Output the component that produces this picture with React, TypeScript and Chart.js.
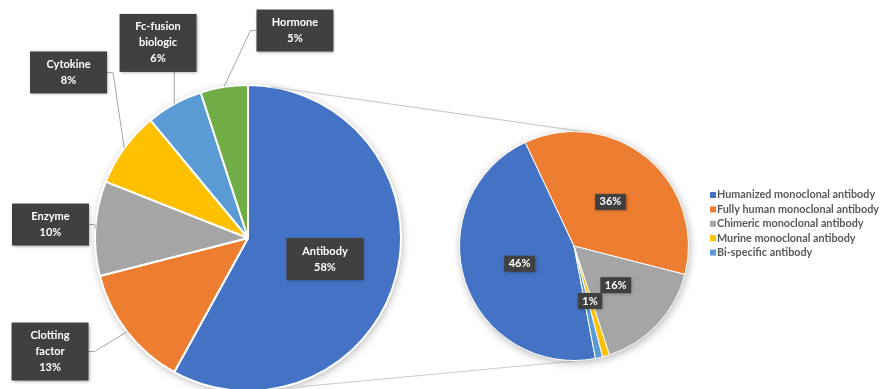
import React, { useEffect, useRef } from "react";
import { Chart, registerables } from "chart.js";

Chart.register(...registerables);

// ---------- data ----------
const primaryCategories = ["Antibody", "Clotting factor", "Enzyme", "Cytokine", "Fc-fusion biologic", "Hormone"];
const primaryValues = [58, 13, 10, 8, 6, 5];
const primaryColors = ["#4472C4", "#ED7D31", "#A5A5A5", "#FFC000", "#5B9BD5", "#70AD47"];

const secondaryCategories = [
  "Humanized monoclonal antibody",
  "Fully human monoclonal antibody",
  "Chimeric monoclonal antibody",
  "Murine monoclonal antibody",
  "Bi-specific antibody",
];
const secondaryValues = [46, 36, 16, 1, 1];
const secondaryColors = ["#4472C4", "#ED7D31", "#A5A5A5", "#FFC000", "#5B9BD5"];

// ---------- layout (not data) ----------
const FONT = "Lato, 'Open Sans', sans-serif";
// label box centre offsets relative to the pie centre, in units of the radius
const primaryLabelOffsets: [number, number][] = [
  [0.503, 0.137],
  [-1.294, 0.742],
  [-1.291, -0.088],
  [-1.173, -1.082],
  [-0.588, -1.275],
  [0.307, -1.356],
];
const secondaryRotation = 169.2;
const secondaryLabelRadius = 0.5;

let primaryChartRef: Chart | null = null;

function wrapText(ctx: CanvasRenderingContext2D, text: string, maxWidth: number): string[] {
  const words = text.split(" ");
  const lines: string[] = [];
  let cur = "";
  for (const w of words) {
    const t = cur ? cur + " " + w : w;
    if (cur && ctx.measureText(t).width > maxWidth) {
      lines.push(cur);
      cur = w;
    } else cur = t;
  }
  if (cur) lines.push(cur);
  return lines;
}

function drawBox(ctx: CanvasRenderingContext2D, x: number, y: number, w: number, h: number, lines: string[], lineH: number, padY: number) {
  ctx.save();
  ctx.shadowColor = "rgba(0,0,0,0.35)";
  ctx.shadowBlur = 3;
  ctx.shadowOffsetX = 1;
  ctx.shadowOffsetY = 1;
  ctx.fillStyle = "#404040";
  ctx.fillRect(x, y, w, h);
  ctx.restore();
  ctx.fillStyle = "#ffffff";
  ctx.textAlign = "center";
  ctx.textBaseline = "middle";
  lines.forEach((l, i) => ctx.fillText(l, x + w / 2, y + padY + lineH * (i + 0.5)));
}

const pieShadowPlugin = {
  id: "pieShadow",
  beforeDatasetsDraw(chart: any) {
    const meta = chart.getDatasetMeta(0);
    const arc = meta.data[0];
    if (!arc) return;
    const p = arc.getProps(["x", "y", "outerRadius"], true);
    const ctx = chart.ctx;
    ctx.save();
    ctx.shadowColor = "rgba(0,0,0,0.3)";
    ctx.shadowBlur = 8;
    ctx.shadowOffsetX = 1;
    ctx.shadowOffsetY = 2;
    ctx.fillStyle = "#ffffff";
    ctx.beginPath();
    ctx.arc(p.x, p.y, p.outerRadius, 0, Math.PI * 2);
    ctx.fill();
    ctx.restore();
  },
};

const primaryLabelPlugin = {
  id: "primaryLabels",
  afterDatasetsDraw(chart: any) {
    const ctx: CanvasRenderingContext2D = chart.ctx;
    const meta = chart.getDatasetMeta(0);
    const data: number[] = chart.data.datasets[0].data;
    const total = data.reduce((a, b) => a + b, 0);
    ctx.save();
    ctx.font = `bold 11px ${FONT}`;
    const lineH = 16;
    const padY = 5;
    meta.data.forEach((arc: any, i: number) => {
      const p = arc.getProps(["x", "y", "startAngle", "endAngle", "outerRadius"], true);
      const R = p.outerRadius;
      const mid = (p.startAngle + p.endAngle) / 2;
      const [ox, oy] = primaryLabelOffsets[i];
      const cx = p.x + ox * R;
      const cy = p.y + oy * R;
      const lines = [...wrapText(ctx, chart.data.labels[i], 62), Math.round((data[i] / total) * 100) + "%"];
      const w = Math.max(77, ...lines.map((l) => ctx.measureText(l).width + 14));
      const h = lines.length * lineH + padY * 2;
      const bx = cx - w / 2;
      const by = cy - h / 2;
      if (Math.hypot(ox, oy) > 1) {
        const ex = p.x + R * Math.cos(mid);
        const ey = p.y + R * Math.sin(mid);
        let ax: number, ay: number, kx: number, ky: number;
        if (ex >= bx && ex <= bx + w) {
          ax = ex;
          ay = ey < by ? by : by + h;
          kx = ax;
          ky = ay;
        } else if (ex < bx) {
          ax = bx;
          ay = cy;
          kx = bx - 6;
          ky = cy;
        } else {
          ax = bx + w;
          ay = cy;
          kx = ax + 6;
          ky = cy;
        }
        ctx.save();
        ctx.strokeStyle = "#a6a6a6";
        ctx.lineWidth = 1;
        ctx.beginPath();
        ctx.moveTo(ex, ey);
        ctx.lineTo(kx, ky);
        ctx.lineTo(ax, ay);
        ctx.stroke();
        ctx.restore();
      }
      drawBox(ctx, bx, by, w, h, lines, lineH, padY);
    });
    ctx.restore();
  },
};

const connectorPlugin = {
  id: "connectors",
  beforeDatasetsDraw(chart: any) {
    if (!primaryChartRef) return;
    const a1 = primaryChartRef.getDatasetMeta(0).data[0] as any;
    const a2 = chart.getDatasetMeta(0).data[0];
    if (!a1 || !a2) return;
    const c1 = a1.getProps(["x", "y", "outerRadius"], true);
    const c2 = a2.getProps(["x", "y", "outerRadius"], true);
    const dx = c2.x - c1.x;
    const dy = c2.y - c1.y;
    const d = Math.hypot(dx, dy);
    const phi = Math.atan2(dy, dx);
    const alpha = Math.acos((c1.outerRadius - c2.outerRadius) / d);
    const ctx: CanvasRenderingContext2D = chart.ctx;
    ctx.save();
    ctx.strokeStyle = "#cfcfcf";
    ctx.lineWidth = 1.2;
    for (const ang of [phi - alpha, phi + alpha]) {
      const nx = Math.cos(ang);
      const ny = Math.sin(ang);
      ctx.beginPath();
      ctx.moveTo(c1.x + c1.outerRadius * nx, c1.y + c1.outerRadius * ny);
      ctx.lineTo(c2.x + c2.outerRadius * nx, c2.y + c2.outerRadius * ny);
      ctx.stroke();
    }
    ctx.restore();
  },
};

const secondaryLabelPlugin = {
  id: "secondaryLabels",
  afterDatasetsDraw(chart: any) {
    const ctx: CanvasRenderingContext2D = chart.ctx;
    const meta = chart.getDatasetMeta(0);
    const data: number[] = chart.data.datasets[0].data;
    const total = data.reduce((a, b) => a + b, 0);
    ctx.save();
    ctx.font = `bold 11px ${FONT}`;
    const placed: { x: number; y: number; w: number; h: number }[] = [];
    meta.data.forEach((arc: any, i: number) => {
      const p = arc.getProps(["x", "y", "startAngle", "endAngle", "outerRadius"], true);
      const mid = (p.startAngle + p.endAngle) / 2;
      const r = p.outerRadius * secondaryLabelRadius;
      const cx = p.x + r * Math.cos(mid);
      const cy = p.y + r * Math.sin(mid);
      const txt = Math.round((data[i] / total) * 100) + "%";
      const w = ctx.measureText(txt).width + 9;
      const h = 16;
      const box = { x: cx - w / 2, y: cy - h / 2, w, h };
      const clash = placed.some((b) => {
        const ox = Math.min(b.x + b.w, box.x + box.w) - Math.max(b.x, box.x);
        const oy = Math.min(b.y + b.h, box.y + box.h) - Math.max(b.y, box.y);
        return ox > 0 && oy > 0 && ox * oy > 0.3 * w * h;
      });
      if (clash) return;
      placed.push(box);
      drawBox(ctx, box.x, box.y, w, h, [txt], 16, 0);
    });
    ctx.restore();
  },
};

const secondaryLegendPlugin = {
  id: "secondaryLegend",
  afterDraw(chart: any) {
    const ctx: CanvasRenderingContext2D = chart.ctx;
    const area = chart.chartArea;
    const labels: string[] = chart.data.labels;
    const colors: string[] = chart.data.datasets[0].backgroundColor;
    const x0 = area.right + 21;
    const rowH = 14.4;
    const y0 = 195;
    ctx.save();
    ctx.font = `bold 10.8px ${FONT}`;
    ctx.textBaseline = "middle";
    ctx.textAlign = "left";
    labels.forEach((l, i) => {
      const y = y0 + i * rowH;
      ctx.fillStyle = colors[i];
      ctx.fillRect(x0, y - 3, 6, 6);
      ctx.fillStyle = "#595959";
      ctx.fillText(l, x0 + 7, y);
    });
    ctx.restore();
  },
};

export default function App() {
  const leftRef = useRef<HTMLCanvasElement>(null);
  const rightRef = useRef<HTMLCanvasElement>(null);

  useEffect(() => {
    if (!leftRef.current || !rightRef.current) return;
    const left = new Chart(leftRef.current, {
      type: "pie",
      data: {
        labels: primaryCategories,
        datasets: [
          {
            data: primaryValues,
            backgroundColor: primaryColors,
            borderColor: "#ffffff",
            borderWidth: 2,
          },
        ],
      },
      options: {
        responsive: false,
        animation: false,
        devicePixelRatio: 1,
        rotation: 0,
        layout: { padding: { left: 94, top: 84, right: 486, bottom: 8 } },
        plugins: { legend: { display: false }, tooltip: { enabled: false } },
      },
      plugins: [pieShadowPlugin, primaryLabelPlugin],
    } as any);
    primaryChartRef = left;

    const right = new Chart(rightRef.current, {
      type: "pie",
      data: {
        labels: secondaryCategories,
        datasets: [
          {
            data: secondaryValues,
            backgroundColor: secondaryColors,
            borderColor: "#ffffff",
            borderWidth: 1,
          },
        ],
      },
      options: {
        responsive: false,
        animation: false,
        devicePixelRatio: 1,
        rotation: secondaryRotation,
        layout: { padding: { left: 459, top: 131, right: 199, bottom: 28 } },
        plugins: { legend: { display: false }, tooltip: { enabled: false } },
      },
      plugins: [connectorPlugin, pieShadowPlugin, secondaryLabelPlugin, secondaryLegendPlugin],
    } as any);

    return () => {
      right.destroy();
      left.destroy();
      primaryChartRef = null;
    };
  }, []);

  return (
    <div
      style={{
        position: "absolute",
        left: 0,
        top: 0,
        width: 888,
        height: 389,
        overflow: "hidden",
        background: "#ffffff",
      }}
    >
      <canvas ref={leftRef} width={888} height={400} style={{ position: "absolute", left: 0, top: 0, width: 888, height: 400 }} />
      <canvas ref={rightRef} width={888} height={389} style={{ position: "absolute", left: 0, top: 0, width: 888, height: 389 }} />
    </div>
  );
}
